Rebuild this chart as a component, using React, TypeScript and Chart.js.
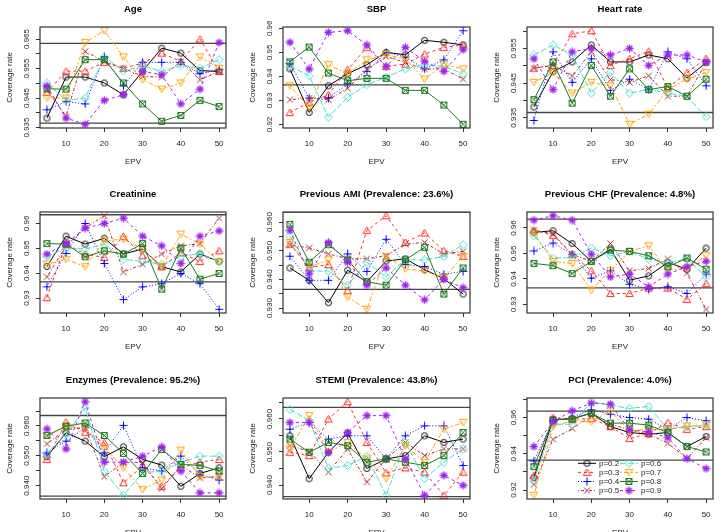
import React, { useEffect, useRef } from 'react';
import { Chart, registerables } from 'chart.js';
Chart.register(...registerables);

const epv = [5, 10, 15, 20, 25, 30, 35, 40, 45, 50];
const seriesNames = ['p=0.2', 'p=0.3', 'p=0.4', 'p=0.5', 'p=0.6', 'p=0.7', 'p=0.8', 'p=0.9'];
const xTicks = [10, 20, 30, 40, 50];
const refLines = [0.9365, 0.9635];
const titles = [
  'Age', 'SBP', 'Heart rate', 'Creatinine', 'Previous AMI (Prevalence: 23.6%)',
  'Previous CHF (Prevalence: 4.8%)', 'Enzymes (Prevalence: 95.2%)', 'STEMI (Prevalence: 43.8%)', 'PCI (Prevalence: 4.0%)',
];

const age = [
  [0.9382, 0.9521, 0.9521, 0.9501, 0.9461, 0.9541, 0.9619, 0.9602, 0.9543, 0.9540],
  [0.9469, 0.9541, 0.9541, 0.9571, 0.9551, 0.9568, 0.9602, 0.9574, 0.9650, 0.9540],
  [0.9410, 0.9438, 0.9430, 0.9589, 0.9491, 0.9571, 0.9571, 0.9571, 0.9532, 0.9546],
  [0.9478, 0.9388, 0.9608, 0.9574, 0.9551, 0.9523, 0.9521, 0.9574, 0.9512, 0.9540],
  [0.9501, 0.9442, 0.9450, 0.9589, 0.9542, 0.9559, 0.9540, 0.9560, 0.9551, 0.9580],
  [0.9450, 0.9450, 0.9638, 0.9678, 0.9589, 0.9512, 0.9480, 0.9501, 0.9589, 0.9551],
  [0.9481, 0.9480, 0.9580, 0.9580, 0.9501, 0.9430, 0.9371, 0.9391, 0.9442, 0.9421],
  [0.9491, 0.9382, 0.9361, 0.9442, 0.9461, 0.9540, 0.9529, 0.9430, 0.9480, 0.9638],
];
const sbp = [
  [0.9431, 0.9250, 0.9361, 0.9411, 0.9449, 0.9500, 0.9490, 0.9550, 0.9542, 0.9531],
  [0.9250, 0.9292, 0.9324, 0.9428, 0.9521, 0.9442, 0.9451, 0.9493, 0.9521, 0.9531],
  [0.9453, 0.9310, 0.9310, 0.9369, 0.9421, 0.9500, 0.9481, 0.9431, 0.9469, 0.9590],
  [0.9303, 0.9310, 0.9303, 0.9351, 0.9428, 0.9483, 0.9458, 0.9431, 0.9431, 0.9389],
  [0.9442, 0.9403, 0.9231, 0.9313, 0.9365, 0.9397, 0.9431, 0.9449, 0.9442, 0.9411],
  [0.9361, 0.9272, 0.9449, 0.9411, 0.9469, 0.9490, 0.9472, 0.9389, 0.9449, 0.9431],
  [0.9461, 0.9522, 0.9414, 0.9382, 0.9392, 0.9392, 0.9342, 0.9342, 0.9281, 0.9201],
  [0.9542, 0.9431, 0.9583, 0.9590, 0.9531, 0.9442, 0.9521, 0.9463, 0.9421, 0.9511],
];
const heartRate = [
  [0.9381, 0.9483, 0.9511, 0.9560, 0.9511, 0.9511, 0.9531, 0.9520, 0.9464, 0.9509],
  [0.9493, 0.9501, 0.9592, 0.9601, 0.9501, 0.9520, 0.9542, 0.9436, 0.9480, 0.9521],
  [0.9342, 0.9540, 0.9452, 0.9520, 0.9429, 0.9461, 0.9431, 0.9540, 0.9520, 0.9442],
  [0.9493, 0.9501, 0.9471, 0.9540, 0.9460, 0.9452, 0.9471, 0.9412, 0.9412, 0.9509],
  [0.9531, 0.9560, 0.9531, 0.9421, 0.9481, 0.9421, 0.9431, 0.9421, 0.9412, 0.9352],
  [0.9452, 0.9480, 0.9421, 0.9452, 0.9442, 0.9331, 0.9360, 0.9431, 0.9461, 0.9480],
  [0.9402, 0.9511, 0.9392, 0.9501, 0.9412, 0.9491, 0.9431, 0.9440, 0.9412, 0.9461],
  [0.9520, 0.9431, 0.9540, 0.9550, 0.9531, 0.9550, 0.9501, 0.9531, 0.9531, 0.9511],
];
const creatinine = [
  [0.9427, 0.9549, 0.9517, 0.9540, 0.9477, 0.9497, 0.9426, 0.9405, 0.9477, 0.9447],
  [0.9302, 0.9519, 0.9477, 0.9463, 0.9548, 0.9470, 0.9426, 0.9482, 0.9447, 0.9490],
  [0.9345, 0.9479, 0.9600, 0.9439, 0.9294, 0.9345, 0.9358, 0.9399, 0.9358, 0.9255],
  [0.9385, 0.9510, 0.9581, 0.9631, 0.9405, 0.9436, 0.9477, 0.9510, 0.9519, 0.9621],
  [0.9467, 0.9501, 0.9497, 0.9517, 0.9456, 0.9447, 0.9436, 0.9467, 0.9479, 0.9447],
  [0.9436, 0.9456, 0.9426, 0.9530, 0.9537, 0.9497, 0.9426, 0.9557, 0.9517, 0.9447],
  [0.9519, 0.9517, 0.9466, 0.9490, 0.9477, 0.9519, 0.9336, 0.9501, 0.9376, 0.9399],
  [0.9477, 0.9519, 0.9581, 0.9600, 0.9621, 0.9549, 0.9510, 0.9439, 0.9549, 0.9570],
];
const previousAmi = [
  [0.9440, 0.9397, 0.9319, 0.9432, 0.9392, 0.9464, 0.9472, 0.9434, 0.9403, 0.9349],
  [0.9523, 0.9441, 0.9452, 0.9361, 0.9571, 0.9622, 0.9529, 0.9562, 0.9500, 0.9480],
  [0.9481, 0.9397, 0.9397, 0.9489, 0.9428, 0.9540, 0.9452, 0.9445, 0.9418, 0.9428],
  [0.9520, 0.9510, 0.9489, 0.9472, 0.9472, 0.9483, 0.9523, 0.9529, 0.9489, 0.9498],
  [0.9551, 0.9429, 0.9429, 0.9380, 0.9460, 0.9409, 0.9468, 0.9468, 0.9480, 0.9521],
  [0.9529, 0.9443, 0.9468, 0.9338, 0.9296, 0.9480, 0.9437, 0.9429, 0.9406, 0.9480],
  [0.9592, 0.9460, 0.9521, 0.9468, 0.9392, 0.9380, 0.9468, 0.9512, 0.9349, 0.9440],
  [0.9571, 0.9420, 0.9529, 0.9460, 0.9380, 0.9440, 0.9380, 0.9329, 0.9400, 0.9371],
];
const previousChf = [
  [0.9583, 0.9589, 0.9539, 0.9469, 0.9517, 0.9395, 0.9412, 0.9465, 0.9438, 0.9521],
  [0.9592, 0.9571, 0.9497, 0.9432, 0.9343, 0.9343, 0.9364, 0.9364, 0.9320, 0.9382],
  [0.9510, 0.9541, 0.9497, 0.9403, 0.9432, 0.9379, 0.9360, 0.9369, 0.9343, 0.9419],
  [0.9592, 0.9576, 0.9497, 0.9469, 0.9539, 0.9432, 0.9441, 0.9478, 0.9423, 0.9281],
  [0.9569, 0.9482, 0.9484, 0.9521, 0.9491, 0.9508, 0.9478, 0.9465, 0.9478, 0.9408],
  [0.9579, 0.9469, 0.9461, 0.9356, 0.9432, 0.9508, 0.9530, 0.9435, 0.9442, 0.9491],
  [0.9461, 0.9452, 0.9421, 0.9469, 0.9513, 0.9508, 0.9491, 0.9448, 0.9482, 0.9438],
  [0.9631, 0.9648, 0.9631, 0.9497, 0.9408, 0.9419, 0.9369, 0.9419, 0.9448, 0.9469],
];
const enzymes = [
  [0.9497, 0.9577, 0.9549, 0.9497, 0.9530, 0.9488, 0.9469, 0.9398, 0.9441, 0.9460],
  [0.9488, 0.9613, 0.9579, 0.9544, 0.9410, 0.9465, 0.9398, 0.9460, 0.9479, 0.9488],
  [0.9510, 0.9549, 0.9594, 0.9510, 0.9602, 0.9460, 0.9449, 0.9499, 0.9438, 0.9419],
  [0.9540, 0.9588, 0.9594, 0.9430, 0.9479, 0.9477, 0.9390, 0.9468, 0.9426, 0.9430],
  [0.9508, 0.9571, 0.9661, 0.9449, 0.9368, 0.9443, 0.9449, 0.9477, 0.9499, 0.9499],
  [0.9568, 0.9597, 0.9594, 0.9527, 0.9460, 0.9387, 0.9419, 0.9519, 0.9430, 0.9430],
  [0.9568, 0.9599, 0.9610, 0.9568, 0.9508, 0.9441, 0.9521, 0.9471, 0.9468, 0.9449],
  [0.9590, 0.9523, 0.9681, 0.9479, 0.9479, 0.9499, 0.9530, 0.9449, 0.9376, 0.9376],
];
const stemi = [
  [0.9549, 0.9419, 0.9499, 0.9557, 0.9450, 0.9479, 0.9489, 0.9549, 0.9529, 0.9539],
  [0.9499, 0.9489, 0.9600, 0.9652, 0.9529, 0.9437, 0.9452, 0.9439, 0.9369, 0.9439],
  [0.9569, 0.9589, 0.9539, 0.9549, 0.9549, 0.9479, 0.9549, 0.9579, 0.9579, 0.9459],
  [0.9519, 0.9502, 0.9439, 0.9509, 0.9409, 0.9479, 0.9529, 0.9489, 0.9509, 0.9509],
  [0.9629, 0.9595, 0.9450, 0.9459, 0.9487, 0.9369, 0.9529, 0.9419, 0.9469, 0.9509],
  [0.9509, 0.9610, 0.9499, 0.9529, 0.9479, 0.9419, 0.9519, 0.9469, 0.9569, 0.9589],
  [0.9539, 0.9499, 0.9529, 0.9519, 0.9469, 0.9479, 0.9469, 0.9459, 0.9489, 0.9559],
  [0.9589, 0.9589, 0.9499, 0.9559, 0.9610, 0.9610, 0.9479, 0.9369, 0.9429, 0.9399],
];
const pci = [
  [0.9268, 0.9587, 0.9594, 0.9624, 0.9550, 0.9517, 0.9508, 0.9517, 0.9440, 0.9495],
  [0.9281, 0.9600, 0.9591, 0.9594, 0.9550, 0.9484, 0.9513, 0.9572, 0.9535, 0.9550],
  [0.9360, 0.9582, 0.9600, 0.9642, 0.9618, 0.9600, 0.9591, 0.9535, 0.9600, 0.9582],
  [0.9231, 0.9480, 0.9539, 0.9609, 0.9563, 0.9532, 0.9508, 0.9458, 0.9373, 0.9489],
  [0.9250, 0.9563, 0.9563, 0.9687, 0.9668, 0.9650, 0.9661, 0.9535, 0.9550, 0.9554],
  [0.9171, 0.9550, 0.9582, 0.9576, 0.9637, 0.9526, 0.9535, 0.9535, 0.9554, 0.9558],
  [0.9329, 0.9587, 0.9591, 0.9624, 0.9569, 0.9569, 0.9558, 0.9517, 0.9440, 0.9410],
  [0.9440, 0.9576, 0.9637, 0.9679, 0.9674, 0.9532, 0.9521, 0.9489, 0.9373, 0.9318],
];

const ticks005a = [0.935, 0.94, 0.945, 0.95, 0.955, 0.96, 0.965];
const labels005a = ['0.935', '', '0.945', '', '0.955', '', '0.965'];
const ticksSbp = [0.92, 0.93, 0.94, 0.95, 0.96];
const labelsSbp = ['0.92', '0.93', '0.94', '0.95', '0.96'];
const ticksHeart = [0.935, 0.94, 0.945, 0.95, 0.955, 0.96];
const labelsHeart = ['0.935', '', '0.945', '', '0.955', ''];
const ticks93 = [0.93, 0.94, 0.95, 0.96];
const labels93 = ['0.93', '0.94', '0.95', '0.96'];
const ticksAmi = [0.93, 0.935, 0.94, 0.945, 0.95, 0.955, 0.96];
const labelsAmi = ['0.930', '', '0.940', '', '0.950', '', '0.960'];
const ticks94 = [0.94, 0.945, 0.95, 0.955, 0.96, 0.965];
const labels94 = ['0.940', '', '0.950', '', '0.960', ''];
const ticksPci = [0.92, 0.93, 0.94, 0.95, 0.96, 0.97];
const labelsPci = ['0.92', '', '0.94', '', '0.96', ''];

const panelData = [age, sbp, heartRate, creatinine, previousAmi, previousChf, enzymes, stemi, pci];
const panelTicks = [ticks005a, ticksSbp, ticksHeart, ticks93, ticksAmi, ticks93, ticks94, ticks94, ticksPci];
const panelLabels = [labels005a, labelsSbp, labelsHeart, labels93, labelsAmi, labels93, labels94, labels94, labelsPci];

const colors = ['#000000', '#ff2a2a', '#0000ff', '#a52a2a', '#40e0d0', '#ffa500', '#1e7b1e', '#a020f0'];
const dashes = [[], [3, 3], [1, 2], [1, 2, 3, 2], [6, 2], [2, 2, 5, 2], [], [3, 3]];
const markers = ['circle', 'tri', 'plus', 'x', 'diamond', 'invtri', 'sqx', 'star'];

const FONT = '"Liberation Sans", Arial, Helvetica, sans-serif';
const boxLefts = [40, 283, 527];
const boxWidths = [187, 188, 187];
const boxTops = [27, 212, 398];
const BOX_H = 101;
const AX_W = 40;
const AX_H = 45;
const TOP_H = 27;
const PAD_R = 4;

function makeMarker(kind: string, color: string) {
  const s = 9;
  const c = document.createElement('canvas');
  c.width = s;
  c.height = s;
  const g = c.getContext('2d')!;
  g.strokeStyle = color;
  g.lineWidth = 1;
  const m = 4.5;
  g.beginPath();
  if (kind === 'circle') g.arc(m, m, 3, 0, Math.PI * 2);
  else if (kind === 'tri') { g.moveTo(m, 1); g.lineTo(8.2, 7.6); g.lineTo(0.8, 7.6); g.closePath(); }
  else if (kind === 'plus') { g.moveTo(m, 0.5); g.lineTo(m, 8.5); g.moveTo(0.5, m); g.lineTo(8.5, m); }
  else if (kind === 'x') { g.moveTo(1.5, 1.5); g.lineTo(7.5, 7.5); g.moveTo(7.5, 1.5); g.lineTo(1.5, 7.5); }
  else if (kind === 'diamond') { g.moveTo(m, 0.5); g.lineTo(8.5, m); g.lineTo(m, 8.5); g.lineTo(0.5, m); g.closePath(); }
  else if (kind === 'invtri') { g.moveTo(0.8, 1.4); g.lineTo(8.2, 1.4); g.lineTo(m, 8); g.closePath(); }
  else if (kind === 'sqx') { g.rect(1.5, 1.5, 6, 6); g.moveTo(1.5, 1.5); g.lineTo(7.5, 7.5); g.moveTo(7.5, 1.5); g.lineTo(1.5, 7.5); }
  else if (kind === 'star') {
    g.lineWidth = 1.3;
    g.moveTo(m, 0.5); g.lineTo(m, 8.5); g.moveTo(0.5, m); g.lineTo(8.5, m);
    g.moveTo(1.7, 1.7); g.lineTo(7.3, 7.3); g.moveTo(7.3, 1.7); g.lineTo(1.7, 7.3);
  }
  g.stroke();
  return c;
}

const framePlugin = {
  id: 'rFrame',
  afterDraw(chart: any) {
    const { ctx, chartArea: a } = chart;
    ctx.save();
    ctx.strokeStyle = '#333';
    ctx.lineWidth = 1.2;
    ctx.strokeRect(a.left, a.top, a.right - a.left, a.bottom - a.top);
    ctx.restore();
  },
};

const legendPlugin = {
  id: 'rLegend',
  afterDatasetsDraw(chart: any, _args: any, opts: any) {
    if (!opts || !opts.show) return;
    const { ctx, chartArea: a } = chart;
    chart.data.datasets.slice(0, seriesNames.length).forEach((ds: any, i: number) => {
      const col = Math.floor(i / 4);
      const row = i % 4;
      const x0 = a.left + 51 + col * 42;
      const y = a.top + 65.3 + row * 9.1;
      ctx.save();
      ctx.strokeStyle = ds.borderColor;
      ctx.lineWidth = 1;
      ctx.setLineDash(ds.borderDash || []);
      ctx.beginPath();
      ctx.moveTo(x0, y);
      ctx.lineTo(x0 + 18, y);
      ctx.stroke();
      ctx.setLineDash([]);
      ctx.drawImage(ds.pointStyle, x0 + 9 - 4.5, y - 4.5);
      ctx.fillStyle = '#222';
      ctx.font = '8px ' + FONT;
      ctx.textBaseline = 'middle';
      ctx.textAlign = 'left';
      ctx.fillText(ds.label, x0 + 21, y);
      ctx.restore();
    });
  },
};

function Panel({ idx }: { idx: number }) {
  const ref = useRef<HTMLCanvasElement>(null);
  const col = idx % 3;
  const row = Math.floor(idx / 3);
  const w = AX_W + boxWidths[col] + PAD_R;
  const h = TOP_H + BOX_H + AX_H;
  useEffect(() => {
    const data = panelData[idx];
    const yt = panelTicks[idx];
    const yl = panelLabels[idx];
    const all = data.flat();
    const lo = Math.min(...all);
    const hi = Math.max(...all);
    const ext = (hi - lo) * 0.04;
    const xMin = epv[0] - (epv[epv.length - 1] - epv[0]) * 0.04;
    const xMax = epv[epv.length - 1] + (epv[epv.length - 1] - epv[0]) * 0.04;

    const mctx = document.createElement('canvas').getContext('2d')!;
    mctx.font = '8px ' + FONT;
    const widest = Math.max(...yl.map((l) => mctx.measureText(l).width));
    const yPad = 13 - 4 - widest / 2;

    const datasets: any[] = data.map((vals, i) => ({
      label: seriesNames[i],
      data: vals.map((v, j) => ({ x: epv[j], y: v })),
      borderColor: colors[i],
      backgroundColor: colors[i],
      borderWidth: 1,
      borderDash: dashes[i],
      pointStyle: makeMarker(markers[i], colors[i]),
      pointRadius: 3,
      tension: 0,
      fill: false,
      order: 20 - i,
    }));
    refLines.forEach((r) => {
      datasets.push({
        label: 'ref',
        data: [{ x: xMin, y: r }, { x: xMax, y: r }],
        borderColor: '#444',
        borderWidth: 1.3,
        pointRadius: 0,
        fill: false,
        order: 30,
      });
    });

    const chart = new Chart(ref.current!, {
      type: 'line',
      data: { datasets },
      plugins: [framePlugin, legendPlugin],
      options: {
        animation: false,
        responsive: false,
        events: [],
        layout: { padding: { top: 0, left: 0, right: PAD_R, bottom: 0 } },
        plugins: {
          legend: { display: false },
          tooltip: { enabled: false },
          title: {
            display: true,
            text: titles[idx],
            fullSize: false,
            color: '#000',
            font: { family: FONT, size: 9.6, weight: 'bold' },
            padding: { top: 3.24, bottom: 12.24 },
          },
          rLegend: { show: idx === 8 },
        } as any,
        scales: {
          x: {
            type: 'linear',
            min: xMin,
            max: xMax,
            afterBuildTicks: (s: any) => { s.ticks = xTicks.map((v) => ({ value: v })); },
            afterFit: (s: any) => { s.height = AX_H; },
            grid: { drawOnChartArea: false, drawTicks: true, tickLength: 4, color: '#333', lineWidth: 1 },
            border: { display: false },
            ticks: { autoSkip: false, maxRotation: 0, minRotation: 0, padding: 6.5, color: '#222', font: { family: FONT, size: 8 }, callback: (v: any) => String(v) },
            title: { display: true, text: 'EPV', color: '#222', font: { family: FONT, size: 8 }, padding: { top: 0, bottom: 6.2 } },
          },
          y: {
            type: 'linear',
            min: lo - ext,
            max: hi + ext,
            afterBuildTicks: (s: any) => { s.ticks = yt.map((v) => ({ value: v })); },
            afterFit: (s: any) => { s.width = AX_W; },
            grid: { drawOnChartArea: false, drawTicks: true, tickLength: 4, color: '#333', lineWidth: 1 },
            border: { display: false },
            ticks: {
              autoSkip: false, minRotation: 90, maxRotation: 90, crossAlign: 'center', padding: yPad,
              color: '#222', font: { family: FONT, size: 8 },
              callback: (_v: any, i: number) => yl[i],
            },
            title: { display: true, text: 'Coverage rate', color: '#222', font: { family: FONT, size: 8 }, padding: { top: 4.5, bottom: 0 } },
          },
        },
      } as any,
    });
    return () => chart.destroy();
  }, [idx]);
  return (
    <canvas
      ref={ref}
      width={w}
      height={h}
      style={{ position: 'absolute', left: boxLefts[col] - AX_W, top: boxTops[row] - TOP_H, width: w, height: h }}
    />
  );
}

export default function App() {
  return (
    <div style={{ position: 'fixed', left: 0, top: 0, width: 724, height: 532, overflow: 'hidden', background: '#fff' }}>
      {titles.map((_, i) => (
        <Panel key={i} idx={i} />
      ))}
    </div>
  );
}
